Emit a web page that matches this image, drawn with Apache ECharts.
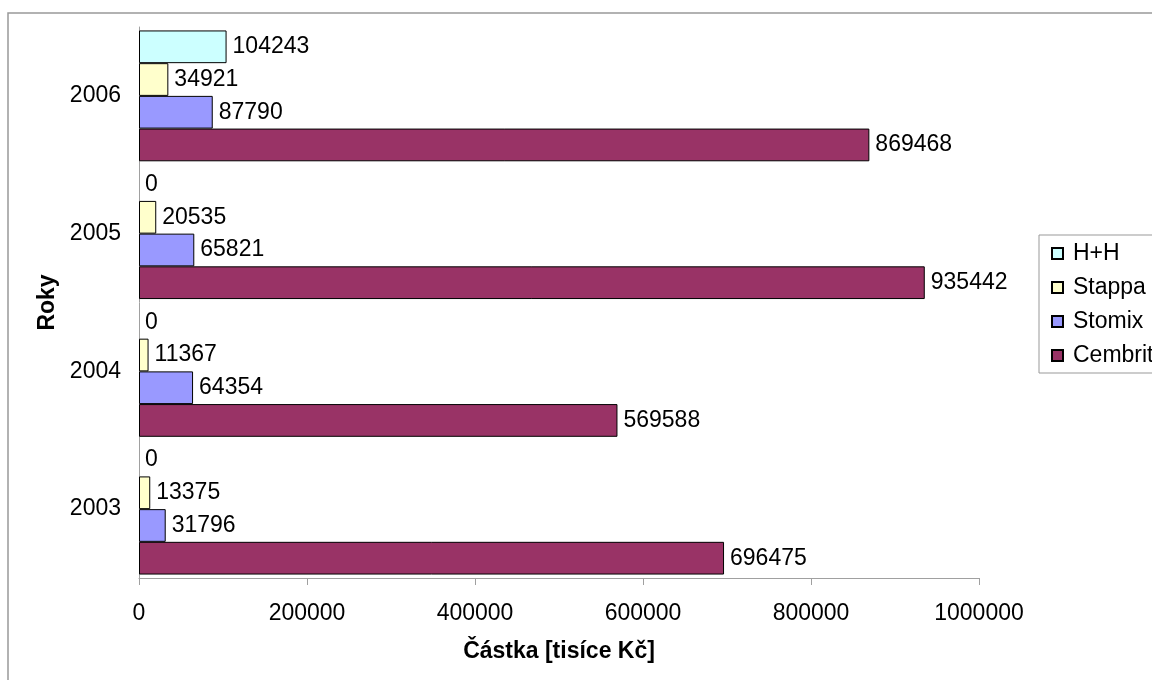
<!DOCTYPE html>
<html>
<head>
<meta charset="utf-8">
<script src="https://cdn.jsdelivr.net/npm/echarts@6/dist/echarts.min.js"></script>
<style>
html,body{margin:0;padding:0;background:#fff;}
#chart{width:1152px;height:680px;}
</style>
</head>
<body>
<div id="chart"></div>
<script>
const years = ['2003', '2004', '2005', '2006'];
const seriesNames = ['H+H', 'Stappa', 'Stomix', 'Cembrit'];
const hhValues = [0, 0, 0, 104243];
const stappaValues = [13375, 11367, 20535, 34921];
const stomixValues = [31796, 64354, 65821, 87790];
const cembritValues = [696475, 569588, 935442, 869468];
const xTicks = [0, 200000, 400000, 600000, 800000, 1000000];

const FONT = 'Liberation Sans, Arial, sans-serif';
const FS = 23;

function mk(name, data, color) {
  return {
    name: name,
    type: 'bar',
    data: data.map(v => v === 0 ? { value: v, itemStyle: { borderWidth: 0 } } : v),
    barGap: '0%',
    barCategoryGap: '5%',
    itemStyle: { color: color, borderColor: '#000', borderWidth: 1 },
    label: {
      show: true, position: 'right', distance: 6,
      formatter: p => String(p.value),
      color: '#000', fontFamily: FONT, fontSize: FS
    }
  };
}

const chart = echarts.init(document.getElementById('chart'), null, { renderer: 'canvas' });
chart.setOption({
  animation: false,
  backgroundColor: '#fff',
  textStyle: { fontFamily: FONT },
  graphic: [{
    type: 'rect', z: -1,
    shape: { x: 8, y: 13, width: 1200, height: 700 },
    style: { fill: 'none', stroke: '#999', lineWidth: 1.5 }
  }],
  grid: { left: 139, right: 173, top: 27, bottom: 102 },
  legend: {
    orient: 'vertical',
    left: 1039, top: 235,
    data: seriesNames,
    icon: 'rect',
    itemWidth: 11, itemHeight: 11, itemGap: 11,
    padding: [7, 60, 6, 12],
    borderColor: '#999', borderWidth: 1,
    textStyle: { fontFamily: FONT, fontSize: FS, color: '#000', padding: [0, 0, 0, 5] }
  },
  xAxis: {
    type: 'value',
    min: xTicks[0], max: xTicks[xTicks.length - 1], interval: 200000,
    name: 'Částka [tisíce Kč]',
    nameLocation: 'middle', nameGap: 62,
    nameTextStyle: { fontFamily: FONT, fontSize: FS, fontWeight: 'bold', color: '#000' },
    axisLine: { show: true, lineStyle: { color: '#a0a0a0', width: 1 } },
    axisTick: { show: true, length: 7, lineStyle: { color: '#a0a0a0' } },
    axisLabel: { fontFamily: FONT, fontSize: FS, color: '#000', margin: 24, formatter: v => String(v) },
    splitLine: { show: false }
  },
  yAxis: {
    type: 'category',
    data: years,
    name: 'Roky',
    nameLocation: 'middle', nameGap: 80, nameRotate: 90,
    nameTextStyle: { fontFamily: FONT, fontSize: FS, fontWeight: 'bold', color: '#000' },
    axisLine: { show: true, lineStyle: { color: '#a0a0a0', width: 1 } },
    axisTick: { show: false },
    axisLabel: { fontFamily: FONT, fontSize: FS, color: '#000', margin: 18 }
  },
  series: [
    mk('H+H', hhValues, '#CCFFFF'),
    mk('Stappa', stappaValues, '#FFFFCC'),
    mk('Stomix', stomixValues, '#9999FF'),
    mk('Cembrit', cembritValues, '#993366')
  ]
});
</script>
</body>
</html>
